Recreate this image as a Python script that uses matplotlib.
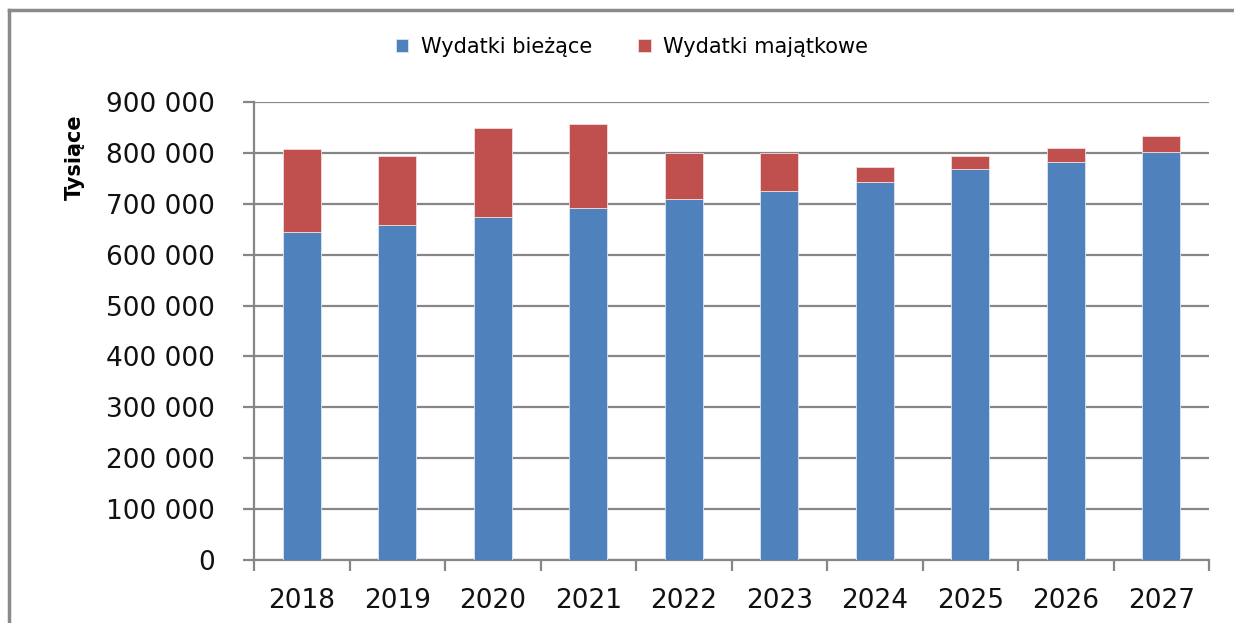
import matplotlib.pyplot as plt
import numpy as np
from matplotlib.lines import Line2D
from matplotlib.ticker import FuncFormatter, MultipleLocator

years = ["2018", "2019", "2020", "2021", "2022", "2023", "2024", "2025", "2026", "2027"]
biezace = [645000, 658000, 675000, 692000, 709000, 726000, 743000, 768000, 782000, 802000]
majatkowe = [162000, 136000, 174000, 165000, 91000, 73000, 29000, 26000, 28000, 31000]

blue = "#4F81BD"
red = "#C0504D"
grey = "#868686"

W, H = 1234, 623
fig = plt.figure(figsize=(W / 100, H / 100), dpi=100)
ax = fig.add_axes([254 / W, 1 - 560 / H, (1209 - 254) / W, (560 - 102) / H])

x = np.arange(len(years))
ax.bar(x, biezace, width=0.4, color=blue, edgecolor="#dce6f2", linewidth=0.6,
       label="Wydatki bieżące", zorder=3)
ax.bar(x, majatkowe, width=0.4, bottom=biezace, color=red, edgecolor="#f2dcdb",
       linewidth=0.6, label="Wydatki majątkowe", zorder=3)

ax.set_xlim(-0.5, len(years) - 0.5)
ax.set_ylim(0, 900000)
ax.yaxis.set_major_locator(MultipleLocator(100000))
ax.yaxis.set_major_formatter(FuncFormatter(lambda v, p: f"{int(v):,}".replace(",", " ")))
ax.grid(axis="y", color=grey, linewidth=1.6, zorder=0)

ax.set_xticks(x)
ax.set_xticklabels(years)
ax.set_xticks(np.arange(-0.5, len(years)), minor=True)
ax.tick_params(axis="x", which="major", length=0, pad=20, labelsize=19, labelcolor="#111111")
ax.tick_params(axis="x", which="minor", length=8, width=1.6, color=grey, direction="out")
ax.tick_params(axis="y", length=8, width=1.6, color=grey, direction="out", pad=20,
               labelsize=19, labelcolor="#111111")

for s in ["top", "right"]:
    ax.spines[s].set_visible(False)
for s in ["left", "bottom"]:
    ax.spines[s].set_color(grey)
    ax.spines[s].set_linewidth(1.6)

fig.text(75 / W, 1 - 157 / H, "Tysiące", rotation=90, ha="center", va="center",
         fontsize=15, fontweight="bold")

fig.legend(loc="center", bbox_to_anchor=(632 / W, 1 - 47 / H), ncol=2, frameon=False,
           fontsize=15, handlelength=0.6, handleheight=0.6, handletextpad=0.6,
           columnspacing=2.2)

# outer chart frame
fig.add_artist(Line2D([9 / W, 1], [1 - 10 / H, 1 - 10 / H], color="#8a8a8a", linewidth=2.5))
fig.add_artist(Line2D([9 / W, 9 / W], [0, 1 - 10 / H], color="#8a8a8a", linewidth=2.5))

fig.savefig("out.png", dpi=100)
